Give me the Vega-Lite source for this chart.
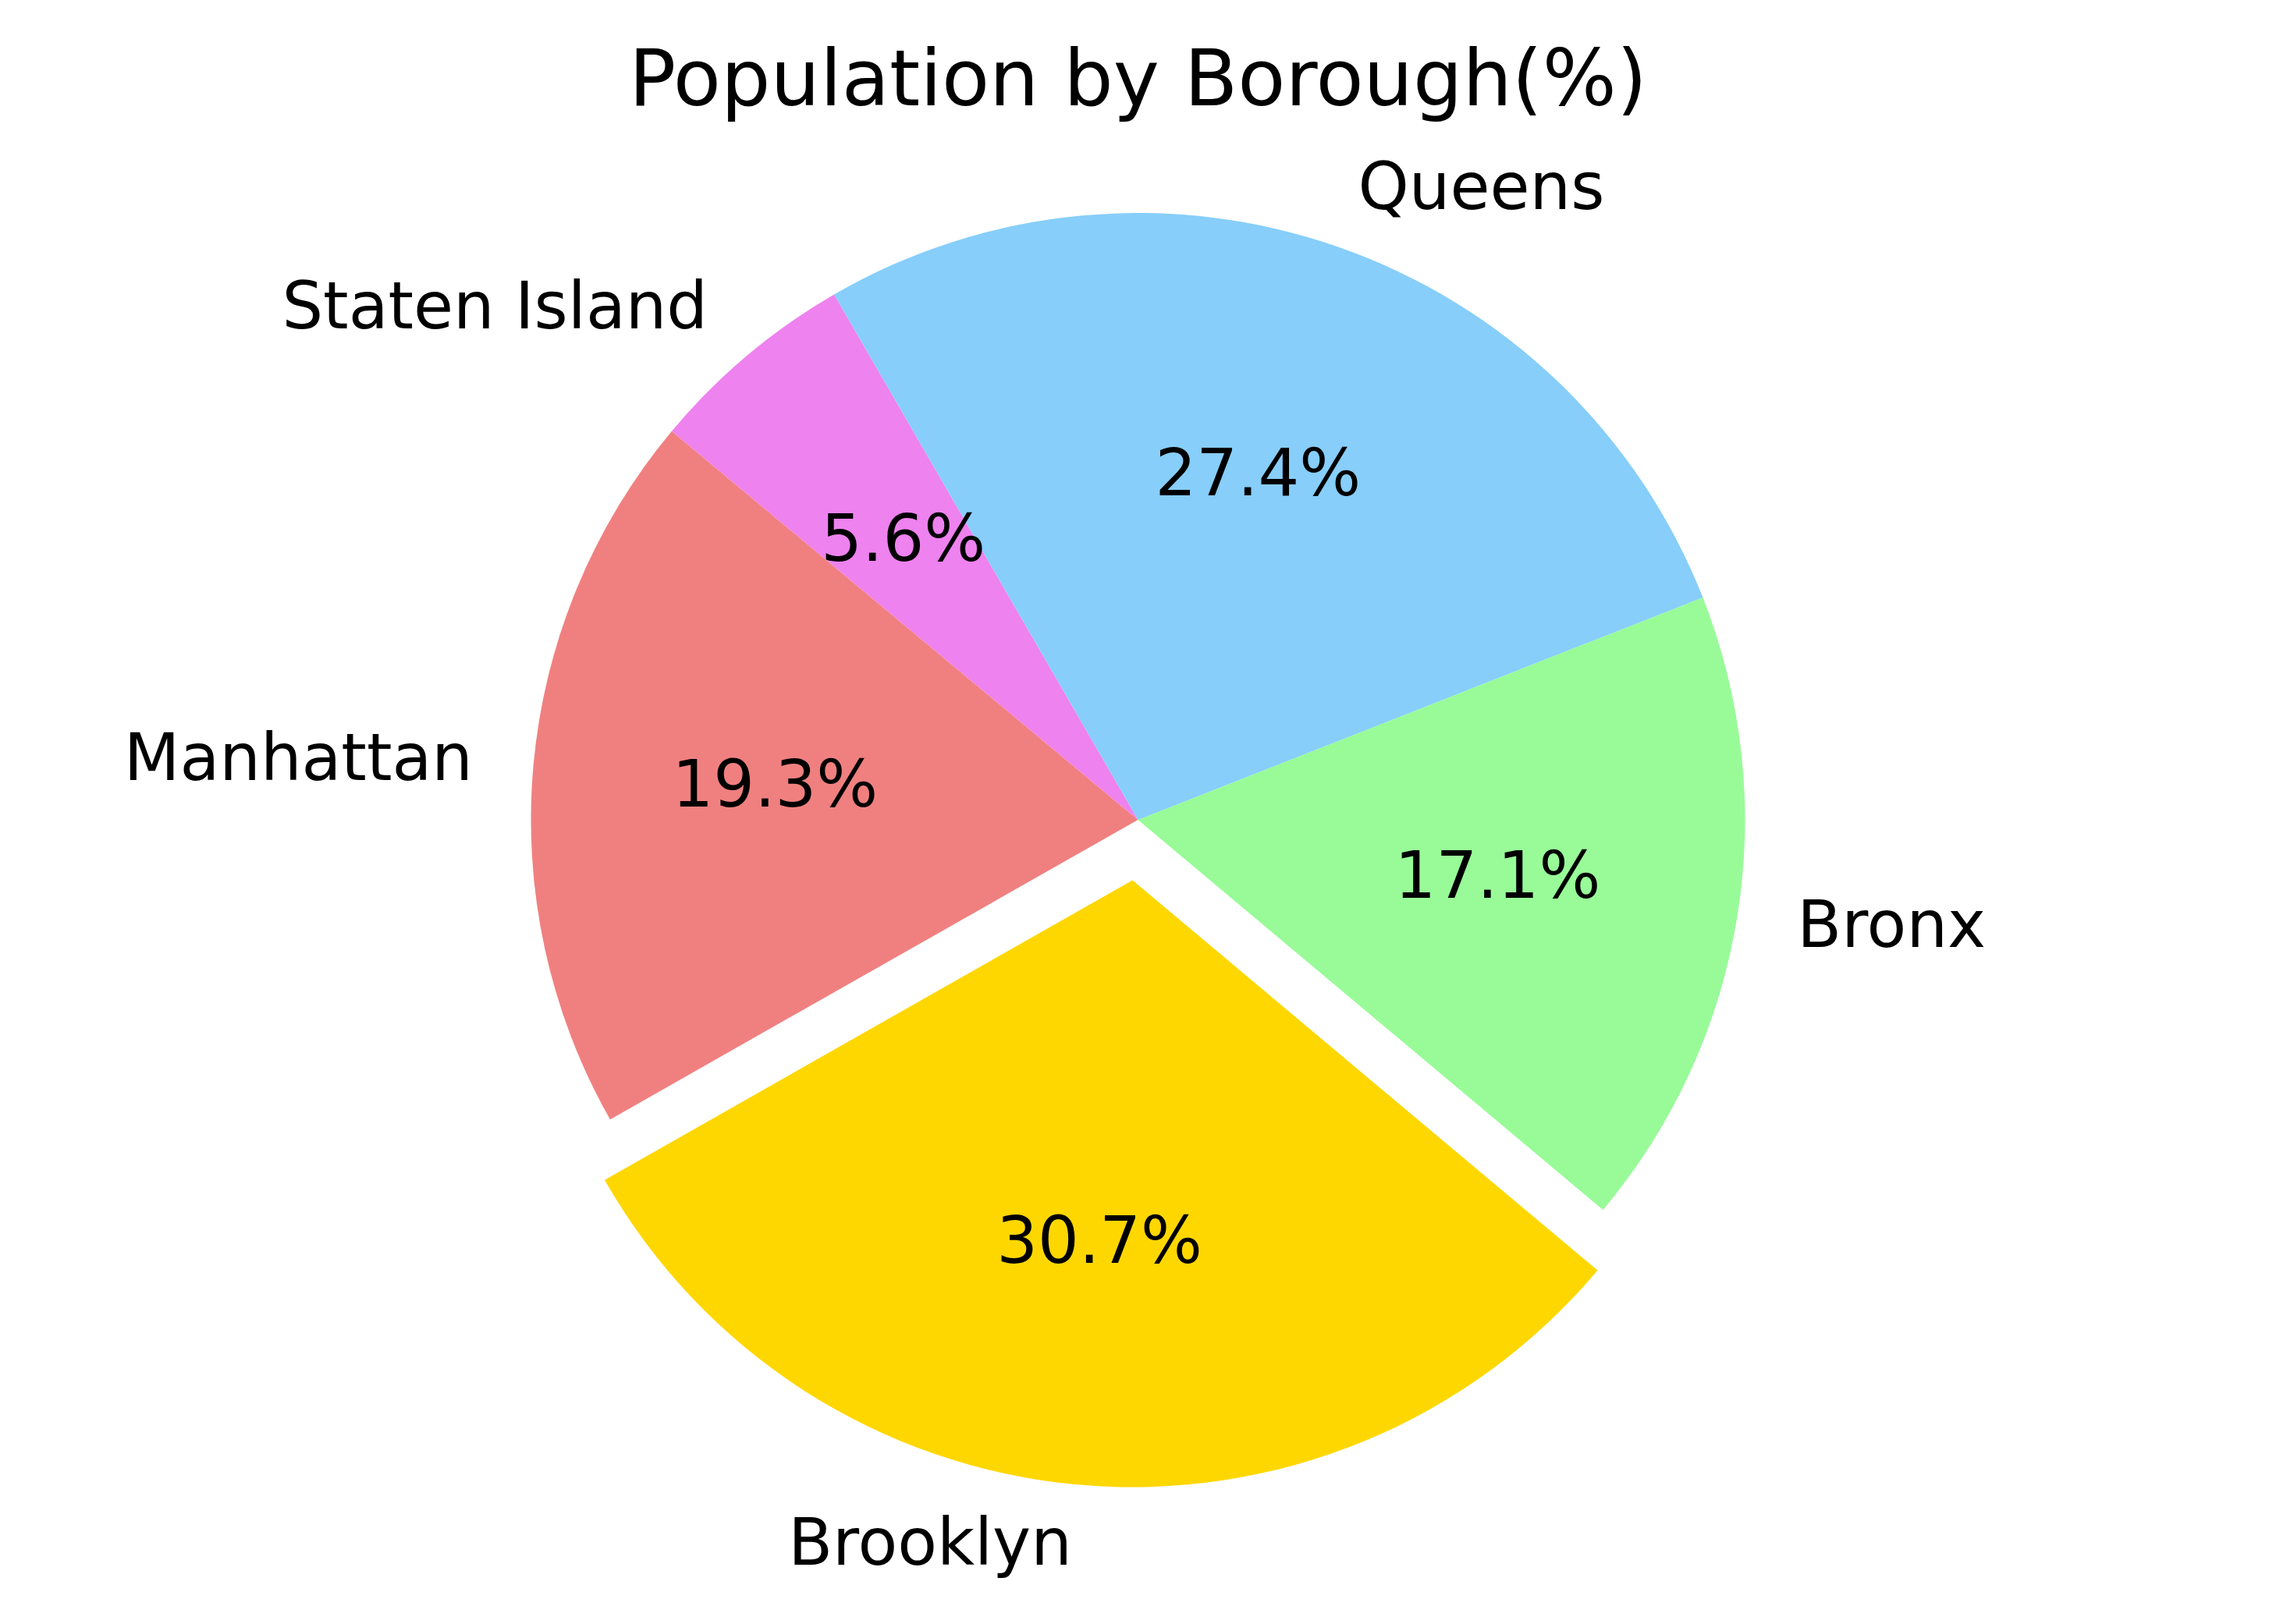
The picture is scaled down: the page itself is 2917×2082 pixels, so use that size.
{
  "$schema": "https://vega.github.io/schema/vega-lite/v6.json",
  "width": 2917,
  "height": 1702,
  "autosize": {"type": "none"},
  "padding": {"left": 0, "top": 200, "right": 0, "bottom": 180},
  "background": "white",
  "config": {"view": {"stroke": null}, "font": "DejaVu Sans"},
  "title": {
    "text": "Population by Borough(%)",
    "fontSize": 100,
    "fontWeight": "normal",
    "font": "DejaVu Sans",
    "color": "black",
    "anchor": "middle",
    "baseline": "alphabetic",
    "offset": 62,
    "dy": 97
  },
  "data": {
    "values": [
      {"borough": "Bronx", "share": 0.171, "order": 1},
      {"borough": "Brooklyn", "share": 0.307, "order": 2},
      {"borough": "Manhattan", "share": 0.193, "order": 3},
      {"borough": "Staten Island", "share": 0.056, "order": 4},
      {"borough": "Queens", "share": 0.274, "order": 5}
    ]
  },
  "encoding": {
    "theta": {"field": "share", "type": "quantitative", "stack": true, "scale": {"range": [1.1956, 7.4788]}},
    "order": {"field": "order", "type": "quantitative", "sort": "ascending"}
  },
  "layer": [
    {
      "mark": {
        "type": "arc",
        "outerRadius": 778,
        "xOffset": {"expr": "datum.borough === 'Brooklyn' ? -7 : 0"},
        "yOffset": {"expr": "datum.borough === 'Brooklyn' ? 77.5 : 0"}
      },
      "encoding": {
        "color": {
          "field": "borough",
          "type": "nominal",
          "legend": null,
          "scale": {
            "domain": ["Bronx", "Brooklyn", "Manhattan", "Staten Island", "Queens"],
            "range": ["#98FB98", "#FFD700", "#F08080", "#EE82EE", "#87CEFA"]
          }
        }
      }
    },
    {
      "mark": {
        "type": "text",
        "radius": 467,
        "fontSize": 83,
        "font": "DejaVu Sans",
        "color": "black",
        "align": "center",
        "baseline": "middle",
        "xOffset": {"expr": "datum.borough === 'Brooklyn' ? -7 : 0"},
        "yOffset": {"expr": "datum.borough === 'Brooklyn' ? 77.5 : 0"}
      },
      "encoding": {
        "text": {"field": "share", "type": "quantitative", "format": ".1%"}
      }
    },
    {
      "mark": {
        "type": "text",
        "radius": 856,
        "fontSize": 83,
        "font": "DejaVu Sans",
        "color": "black",
        "align": {"expr": "datum.borough === 'Manhattan' || datum.borough === 'Staten Island' || datum.borough === 'Brooklyn' ? 'right' : 'left'"},
        "baseline": "middle",
        "xOffset": {"expr": "datum.borough === 'Brooklyn' ? -7 : 0"},
        "yOffset": {"expr": "datum.borough === 'Brooklyn' ? 77.5 : 0"}
      },
      "encoding": {
        "text": {"field": "borough", "type": "nominal"}
      }
    }
  ]
}
